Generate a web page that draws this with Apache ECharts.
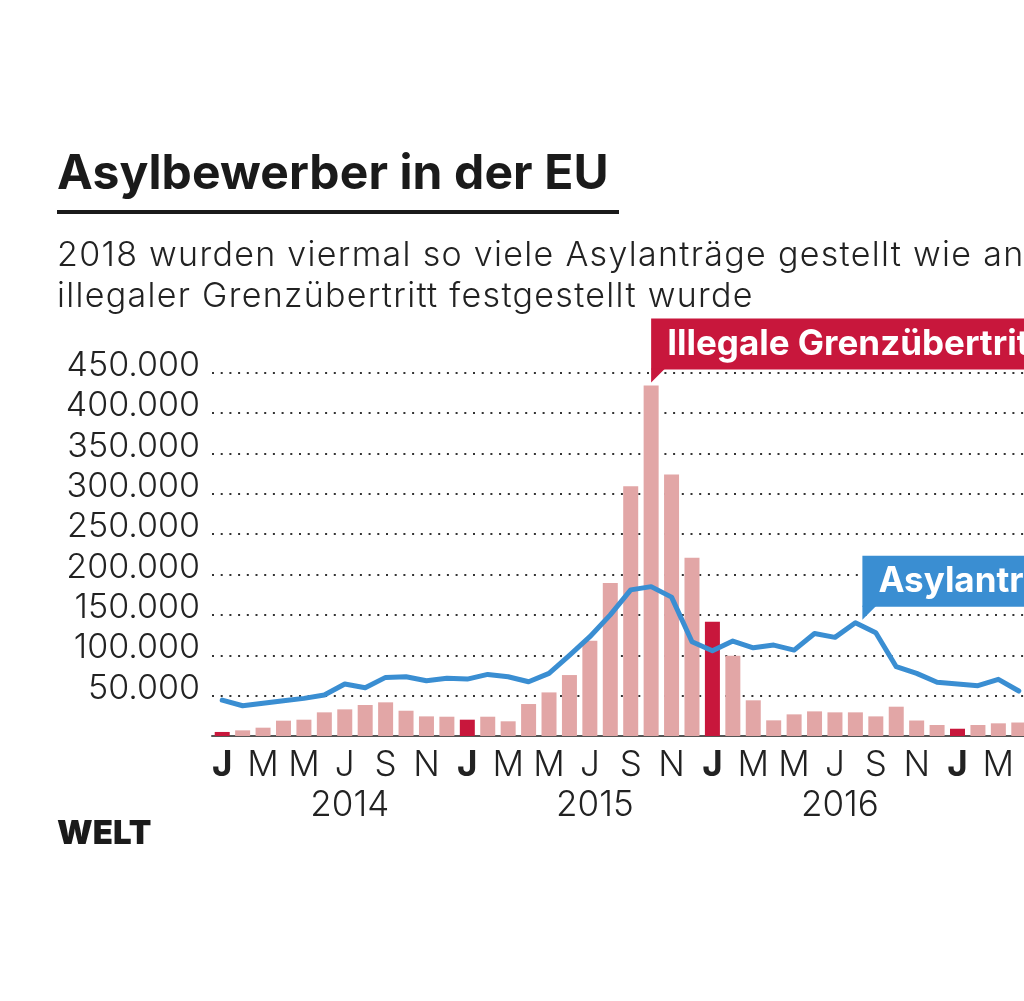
<!DOCTYPE html>
<html>
<head>
<meta charset="utf-8">
<title>Asylbewerber in der EU</title>
<script src="https://cdn.jsdelivr.net/npm/echarts@6/dist/echarts.min.js"></script>
<style>
	html, body { margin: 0; padding: 0; background: #fff; overflow: hidden; }
	#wrap { position: relative; width: 1040px; height: 1001px; }
	#main { width: 1040px; height: 1001px; }
	.head { position: absolute; left: 57px; white-space: nowrap; font-family: Inter, sans-serif; color: #1a1a1a; }
	#title { top: 143px; font-size: 48px; line-height: 58px; font-weight: 700; letter-spacing: 0.1px; }
	.sub { font-size: 34px; line-height: 40px; font-weight: 300; color: #222; letter-spacing: 1.3px; }
	#sub1 { top: 234px; }
	#sub2 { top: 275px; }
</style>
</head>
<body>
<div id="wrap">
	<div id="main"></div>
	<div id="title" class="head">Asylbewerber in der EU</div>
	<div id="sub1" class="head sub">2018 wurden viermal so viele Asylanträge gestellt wie an</div>
	<div id="sub2" class="head sub">illegaler Grenzübertritt festgestellt wurde</div>
</div>
<script>
// Monate Jan 2014 - Apr 2017
var months = [
	'2014-01', '2014-02', '2014-03', '2014-04', '2014-05', '2014-06', '2014-07', '2014-08', '2014-09', '2014-10', '2014-11', '2014-12',
	'2015-01', '2015-02', '2015-03', '2015-04', '2015-05', '2015-06', '2015-07', '2015-08', '2015-09', '2015-10', '2015-11', '2015-12',
	'2016-01', '2016-02', '2016-03', '2016-04', '2016-05', '2016-06', '2016-07', '2016-08', '2016-09', '2016-10', '2016-11', '2016-12',
	'2017-01', '2017-02', '2017-03', '2017-04'
];
var monthInitials = ['J', 'F', 'M', 'A', 'M', 'J', 'J', 'A', 'S', 'O', 'N', 'D'];

// Illegale Grenzübertritte (Balken)
var grenzuebertritte = [
	5000, 7000, 10300, 19000, 20200, 29300, 33000, 38400, 41700, 31300, 24300, 23900,
	20200, 23900, 18200, 39600, 54000, 75500, 118000, 189500, 309500, 434000, 324000, 220700,
	141500, 99500, 44200, 19400, 26800, 30500, 29300, 29300, 24300, 36300, 19200, 13600,
	9000, 13600, 15700, 16700
];

// Asylanträge (Linie)
var asylantraege = [
	44500, 37500, 40500, 43700, 46600, 50700, 64400, 59800, 72600, 73400, 68500, 71400,
	70500, 76300, 73400, 67200, 77600, 100000, 123000, 150000, 181000, 185000, 172000, 116700,
	105600, 117600, 109300, 112600, 106400, 127000, 122200, 140200, 127800, 85800, 77600, 66500,
	64400, 62300, 70200, 55700
];

var yMax = 450000,
	yStep = 50000;

var red = '#c8173c',
	pink = '#e2a6a6',
	blue = '#3a8ed2',
	ink = '#222222',
	font = 'Inter';

var myChart = echarts.init(document.getElementById('main'));

function fmt(v) {
	if (v === 0) return '';
	return String(v).replace(/\B(?=(\d{3})+(?!\d))/g, '.');
}

var option = {
	backgroundColor: '#ffffff',
	animation: false,
	grid: {
		left: 212,
		right: 11,
		top: 372.7,
		bottom: 265
	},
	xAxis: {
		type: 'category',
		data: months,
		axisTick: { show: false },
		axisLine: {
			show: true,
			lineStyle: { color: '#555', width: 2 }
		},
		axisLabel: {
			interval: 1,
			margin: 9,
			formatter: function(value) {
				var y = value.substring(0, 4),
					m = Number(value.substring(5, 7));
				var letter = monthInitials[m - 1];
				if (m === 1) return '{b|' + letter + '}';
				if (m === 7) return '{m|' + letter + '}\n{y|' + y + '}';
				return '{m|' + letter + '}';
			},
			rich: {
				m: { fontFamily: font, fontWeight: 300, fontSize: 35, color: ink, lineHeight: 40 },
				b: { fontFamily: font, fontWeight: 'bold', fontSize: 35, color: ink, lineHeight: 40 },
				y: { fontFamily: font, fontWeight: 300, fontSize: 35, color: ink, lineHeight: 40, padding: [0, 0, 0, 10] }
			}
		}
	},
	yAxis: {
		type: 'value',
		min: 0,
		max: yMax,
		interval: yStep,
		axisLine: { show: false },
		axisTick: { show: false },
		axisLabel: {
			formatter: fmt,
			fontFamily: font,
			fontWeight: 300,
			fontSize: 34,
			color: ink,
			margin: 12,
			verticalAlign: 'bottom',
			lineHeight: 14
		},
		splitLine: {
			show: true,
			lineStyle: {
				color: '#333',
				width: 2,
				type: [2, 6.7]
			}
		}
	},
	series: [{
		name: 'Illegale Grenzübertritte',
		type: 'bar',
		barWidth: 15,
		data: grenzuebertritte,
		itemStyle: {
			color: function(p) {
				return p.name.substring(5) === '01' ? red : pink;
			}
		}
	}, {
		name: 'Asylanträge',
		type: 'line',
		data: asylantraege,
		symbol: 'none',
		z: 5,
		lineStyle: {
			color: blue,
			width: 5,
			join: 'round',
			cap: 'round'
		}
	}]
};
myChart.setOption(option);

// Callouts an Datenpunkten verankern
function callout(tip, color, label) {
	var boxBottom = tip[1] - 13,
		boxH = 51;
	return {
		type: 'group',
		children: [{
			type: 'rect',
			shape: { x: tip[0], y: boxBottom - boxH, width: 600, height: boxH },
			style: { fill: color }
		}, {
			type: 'polygon',
			shape: { points: [[tip[0], boxBottom - 1], [tip[0], tip[1]], [tip[0] + 14, boxBottom - 1]] },
			style: { fill: color }
		}, {
			type: 'text',
			x: tip[0] + 16,
			y: boxBottom - boxH / 2,
			style: {
				text: label,
				fill: '#fff',
				font: 'bold 35px ' + font,
				verticalAlign: 'middle'
			}
		}]
	};
}

var peakIdx = months.indexOf('2015-10');
var redTip = myChart.convertToPixel({ seriesIndex: 0 }, [peakIdx, grenzuebertritte[peakIdx]]);
redTip[1] -= 3;
var asylIdx = months.indexOf('2016-08');
var blueTip = myChart.convertToPixel({ seriesIndex: 1 }, [asylIdx, asylantraege[asylIdx]]);
blueTip[0] += 7;
blueTip[1] -= 3;

myChart.setOption({
	graphic: [{
		type: 'rect',
		shape: { x: 57, y: 210, width: 562, height: 4 },
		style: { fill: '#1a1a1a' }
	},
	callout(redTip, red, 'Illegale Grenzübertritte'),
	callout(blueTip, blue, 'Asylanträge'),
	{
		type: 'text',
		x: 57,
		y: 834,
		style: {
			text: 'WELT',
			fill: '#1a1a1a',
			font: '900 33px ' + font,
			verticalAlign: 'middle'
		}
	}]
});
</script>
</body>
</html>
